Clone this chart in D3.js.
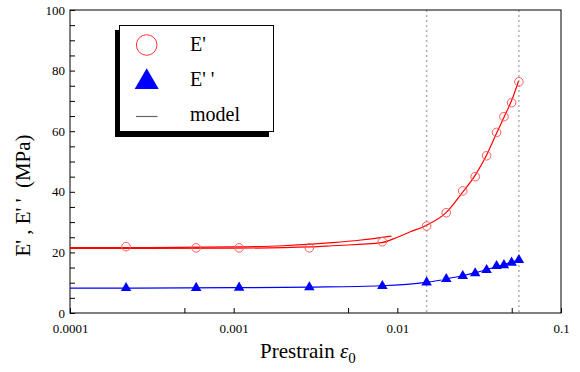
<!DOCTYPE html>
<html>
<head>
<meta charset="utf-8">
<script src="https://cdn.jsdelivr.net/npm/d3@7"></script>
<style>
  body { margin: 0; background: #fff; }
  #graph { width: 580px; height: 372px; }
</style>
</head>
<body>
<div id="graph"></div>
<script>
// prestrain values (log axis) and measured moduli, MPa
const strain = [0.00022, 0.00059, 0.00108, 0.0029, 0.0081, 0.0151, 0.0199, 0.0251, 0.0299, 0.0351, 0.0404, 0.0448, 0.0499, 0.0553];
const storage = [21.9, 21.5, 21.5, 21.5, 23.5, 28.7, 33.1, 40.3, 45.0, 51.9, 59.6, 64.8, 69.4, 76.3];
const loss = [8.25, 8.3, 8.35, 8.5, 8.9, 10.1, 11.2, 12.2, 13.1, 14.2, 15.5, 15.8, 16.6, 17.5];

// model curves as [strain, modulus]
const modelStorageLow = [[0.0001, 21.6], [0.0003, 21.6], [0.001, 21.8], [0.002, 22.2], [0.003, 22.7], [0.004, 23.2], [0.006, 24.1], [0.0092, 25.4]];
const modelStorage = [[0.0001, 21.3], [0.001, 21.4], [0.003, 21.8], [0.004, 22.2], [0.008, 23.2], [0.01, 25.0], [0.012, 26.8], [0.015, 28.9],
  [0.02, 33.3], [0.025, 39.8], [0.03, 45.6], [0.035, 52.0], [0.04, 58.8], [0.045, 64.8], [0.05, 70.2], [0.055, 76.5]];
const modelLossLow = [[0.0001, 8.2], [0.001, 8.35], [0.003, 8.55], [0.008, 9.0], [0.015, 10.1], [0.0186, 10.9]];
const modelLoss = [[0.0195, 11.2], [0.025, 12.3], [0.03, 13.3], [0.035, 14.3], [0.04, 15.2], [0.045, 16.0], [0.05, 16.8], [0.055, 17.5]];

const markers = [0.0151, 0.0553];
const xTicks = [0.0001, 0.001, 0.01, 0.1];
const xMinor = [0.0005, 0.005, 0.05];
const yTicks = [0, 20, 40, 60, 80, 100];

const serif = "'Liberation Serif', 'Times New Roman', Times, serif";

function chart() {
  const margin = { top: 10, right: 19, bottom: 59, left: 70 };
  const width = 580 - margin.left - margin.right;
  const height = 372 - margin.top - margin.bottom;
  const tickLen = 5;

  const root = d3.select("#graph")
    .append("svg")
    .attr("width", 580)
    .attr("height", 372)
    .style("font-family", serif);

  const svg = root.append("g")
    .attr("transform", "translate(" + margin.left + "," + margin.top + ")");

  const x = d3.scaleLog().domain([0.0001, 0.1]).range([0, width]);
  const y = d3.scaleLinear().domain([0, 100]).range([height, 0]);

  // dotted guides
  svg.selectAll("line.guide")
    .data(markers)
    .enter()
    .append("line")
    .attr("class", "guide")
    .attr("x1", d => x(d)).attr("x2", d => x(d))
    .attr("y1", 0).attr("y2", height)
    .attr("stroke", "#b0b0b0")
    .attr("stroke-width", 1.5)
    .attr("stroke-dasharray", "2,3");

  // axes, ticks pointing inward
  const xAxis = svg.append("g")
    .attr("transform", "translate(0," + height + ")")
    .call(d3.axisBottom(x).tickValues(xTicks.concat(xMinor)).tickSizeInner(-tickLen).tickSizeOuter(0)
      .tickFormat(d => xTicks.includes(d) ? String(d) : ""));
  xAxis.selectAll("text").attr("y", 11);

  const yAxis = svg.append("g")
    .call(d3.axisLeft(y).tickValues(d3.range(0, 101, 5)).tickSizeInner(-tickLen).tickSizeOuter(0)
      .tickFormat(d => yTicks.includes(d) ? d : ""));
  yAxis.selectAll("text").attr("x", -5);

  svg.selectAll(".domain").remove();
  svg.selectAll(".tick line").attr("stroke", "#000");
  svg.selectAll(".tick text").attr("fill", "#000").style("font-size", "13px");
  xAxis.attr("font-family", null);
  yAxis.attr("font-family", null);

  svg.append("rect")
    .attr("x", 0).attr("y", 0)
    .attr("width", width).attr("height", height)
    .attr("fill", "none")
    .attr("stroke", "#000")
    .attr("stroke-width", 1);

  const line = d3.line()
    .x(d => x(d[0]))
    .y(d => y(d[1]))
    .curve(d3.curveMonotoneX);

  [[modelStorageLow, "#ff0000"], [modelStorage, "#ff0000"], [modelLossLow, "#0000ff"], [modelLoss, "#0000ff"]].forEach(function(m) {
    svg.append("path")
      .datum(m[0])
      .attr("d", line)
      .attr("fill", "none")
      .attr("stroke", m[1])
      .attr("stroke-width", 1.2);
  });

  svg.selectAll("circle.ep")
    .data(strain)
    .enter()
    .append("circle")
    .attr("class", "ep")
    .attr("cx", d => x(d))
    .attr("cy", (d, i) => y(storage[i]))
    .attr("r", 4.3)
    .attr("fill", "none")
    .attr("stroke", "#ff5a5a")
    .attr("stroke-width", 1);

  const tri = d3.symbol().type(d3.symbolTriangle).size(48);
  svg.selectAll("path.epp")
    .data(strain)
    .enter()
    .append("path")
    .attr("class", "epp")
    .attr("d", tri)
    .attr("transform", (d, i) => "translate(" + x(d) + "," + y(loss[i]) + ")")
    .attr("fill", "#0000ff");

  // legend with drop shadow
  const lg = root.append("g");
  lg.append("rect").attr("x", 115).attr("y", 30).attr("width", 154).attr("height", 107).attr("fill", "#000");
  lg.append("rect").attr("x", 119.5).attr("y", 25.5).attr("width", 154).attr("height", 106)
    .attr("fill", "#fff").attr("stroke", "#000").attr("stroke-width", 1);
  lg.append("circle").attr("cx", 146.7).attr("cy", 45).attr("r", 10.3)
    .attr("fill", "none").attr("stroke", "#ff3030").attr("stroke-width", 1);
  lg.append("path").attr("d", d3.symbol().type(d3.symbolTriangle).size(250))
    .attr("transform", "translate(146.7,82)").attr("fill", "#0000ff");
  lg.append("line").attr("x1", 136).attr("x2", 157.5).attr("y1", 116.5).attr("y2", 116.5)
    .attr("stroke", "#666").attr("stroke-width", 1.2);
  const labels = ["E'", "E' '", "model"];
  lg.selectAll("text")
    .data(labels)
    .enter()
    .append("text")
    .attr("x", 190)
    .attr("y", (d, i) => 51 + i * 35)
    .style("font-size", "20px")
    .style("white-space", "pre")
    .text(d => d);

  // axis titles
  const xt = svg.append("text")
    .attr("x", 190)
    .attr("y", height + 45)
    .style("font-size", "21px");
  xt.append("tspan").text("Prestrain ");
  xt.append("tspan").style("font-style", "italic").text("ε");
  xt.append("tspan").attr("dy", 5).style("font-size", "15px").text("0");

  svg.append("text")
    .attr("transform", "translate(-40," + (height / 2 + 34) + ") rotate(-90)")
    .attr("text-anchor", "middle")
    .style("font-size", "21px")
    .style("white-space", "pre")
    .text("E' , E' '  (MPa)");
}

chart();
</script>
</body>
</html>
